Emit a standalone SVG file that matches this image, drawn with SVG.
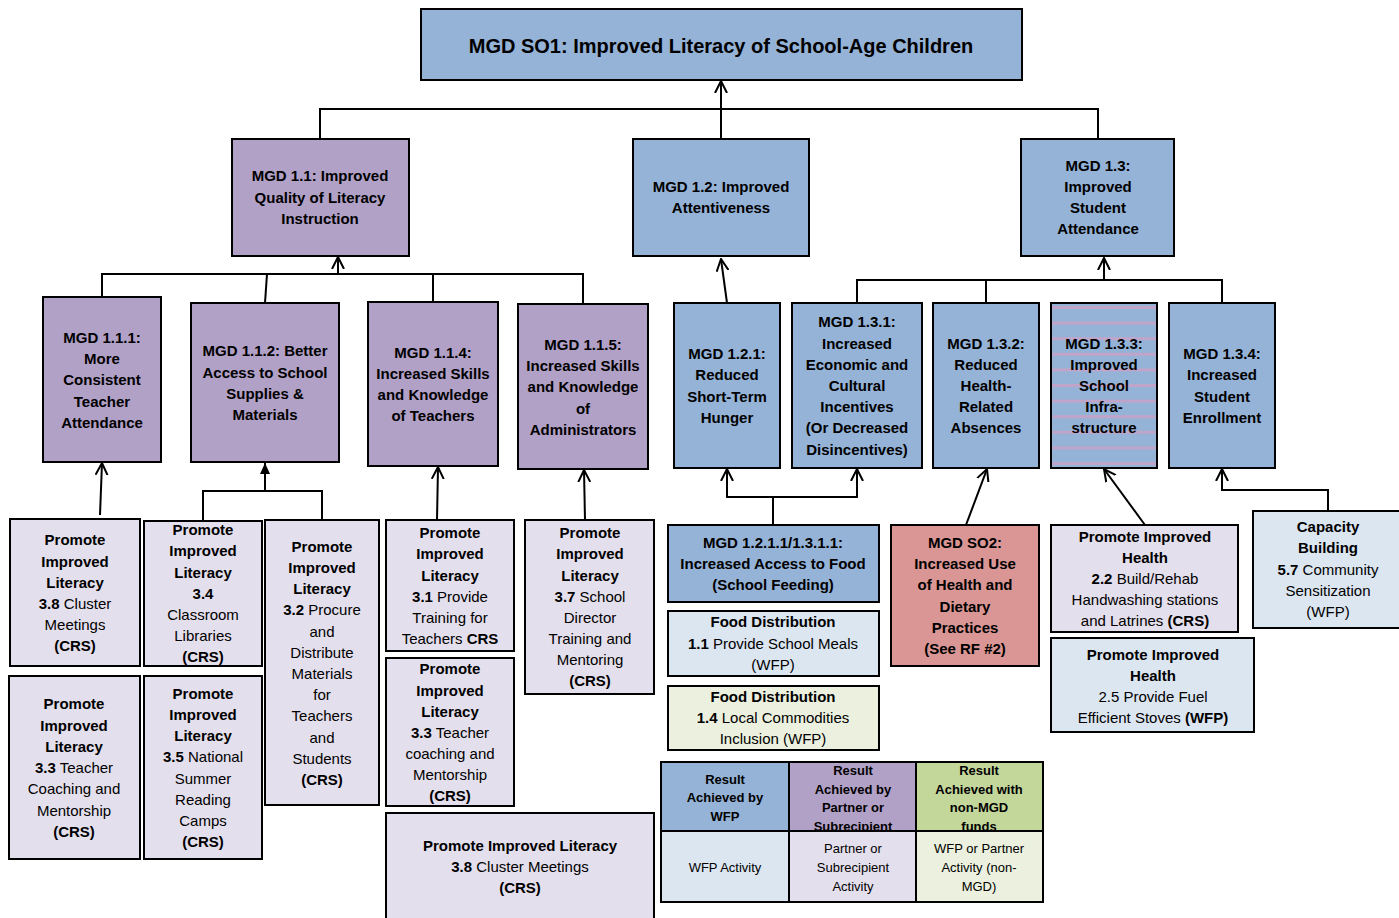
<svg xmlns="http://www.w3.org/2000/svg" width="1399" height="918" viewBox="0 0 1399 918">
<style>
.n{stroke:#000;stroke-width:2}
.b{fill:#95B3D7}.p{fill:#B2A1C7}.lp{fill:#E4DFEC}.lb{fill:#DCE6F1}.lg{fill:#EBF1DE}.g{fill:#C4D79B}.r{fill:#DA9694}
text{font-family:"Liberation Sans",Arial,sans-serif;font-size:15px;fill:#000;text-anchor:middle}
.bd{font-weight:bold}
.t{font-size:20px;font-weight:bold}
.s{font-size:13px}
.c{fill:none;stroke:#000;stroke-width:2}
.a{marker-end:url(#arr)}
.af{marker-end:url(#arrf)}
</style>
<defs>
<marker id="arr" markerUnits="userSpaceOnUse" viewBox="0 0 13 14" refX="12" refY="7" markerWidth="13" markerHeight="14" orient="auto">
<path d="M0,1 L12,7 L0,13" fill="none" stroke="#000" stroke-width="2"/>
</marker>
<marker id="arrf" markerUnits="userSpaceOnUse" viewBox="0 0 12 12" refX="11" refY="6" markerWidth="12" markerHeight="12" orient="auto">
<path d="M0,1 L11,6 L0,11 Z" fill="#000"/>
</marker>
<pattern id="stripe" patternUnits="userSpaceOnUse" x="0" y="306" width="20" height="15.6">
<rect width="20" height="15.6" fill="#95B3D7"/>
<rect width="20" height="3" fill="#BFA5C9"/>
</pattern>
</defs>

<g id="connectors">
<path class="c a" d="M721,139 V81"/>
<path class="c" d="M320,139 V109 H1098 V139"/>
<path class="c a" d="M338,274 V257"/>
<path class="c" d="M102,297 V274 H583 V304"/>
<path class="c" d="M267,274 L265,303"/>
<path class="c" d="M433,274 V302"/>
<path class="c a" d="M727,303 L721,259"/>
<path class="c a" d="M1104,280 V258"/>
<path class="c" d="M857,303 V280 H1222 V303"/>
<path class="c" d="M986,280 V303"/>
<path class="c a" d="M100,515 L102,463"/>
<path class="c" d="M203,521 V491 H322 V520"/>
<path class="c af" d="M265,491 V463"/>
<path class="c a" d="M437,520 L438,467"/>
<path class="c a" d="M585,520 L584,470"/>
<path class="c" d="M773,525 V497"/>
<path class="c a" d="M773,497 H727 V469"/>
<path class="c a" d="M773,497 H857 V469"/>
<path class="c a" d="M966,525 L987,469"/>
<path class="c a" d="M1145,525 L1104,469"/>
<path class="c a" d="M1328,511 V490 H1222 V469"/>
</g>

<g id="so1"><rect class="n b" x="421" y="9" width="601" height="71"/>
<text class="t" x="721" y="53">MGD SO1: Improved Literacy of School-Age Children</text></g>

<g id="mgd11"><rect class="n p" x="232" y="139" width="177" height="117"/>
<text class="bd"><tspan x="320" y="181">MGD 1.1: Improved</tspan><tspan x="320" y="203">Quality of Literacy</tspan><tspan x="320" y="224">Instruction</tspan></text></g>

<g id="mgd12"><rect class="n b" x="633" y="139" width="176" height="117"/>
<text class="bd"><tspan x="721" y="192">MGD 1.2: Improved</tspan><tspan x="721" y="213">Attentiveness</tspan></text></g>

<g id="mgd13"><rect class="n b" x="1021" y="139" width="153" height="117"/>
<text class="bd"><tspan x="1098" y="171">MGD 1.3:</tspan><tspan x="1098" y="192">Improved</tspan><tspan x="1098" y="213">Student</tspan><tspan x="1098" y="234">Attendance</tspan></text></g>

<g id="mgd111"><rect class="n p" x="43" y="297" width="118" height="165"/>
<text class="bd"><tspan x="102" y="343">MGD 1.1.1:</tspan><tspan x="102" y="364">More</tspan><tspan x="102" y="385">Consistent</tspan><tspan x="102" y="407">Teacher</tspan><tspan x="102" y="428">Attendance</tspan></text></g>

<g id="mgd112"><rect class="n p" x="191" y="303" width="148" height="159"/>
<text class="bd"><tspan x="265" y="356">MGD 1.1.2: Better</tspan><tspan x="265" y="378">Access to School</tspan><tspan x="265" y="399">Supplies &amp;</tspan><tspan x="265" y="420">Materials</tspan></text></g>

<g id="mgd114"><rect class="n p" x="368" y="302" width="130" height="164"/>
<text class="bd"><tspan x="433" y="358">MGD 1.1.4:</tspan><tspan x="433" y="379">Increased Skills</tspan><tspan x="433" y="400">and Knowledge</tspan><tspan x="433" y="421">of Teachers</tspan></text></g>

<g id="mgd115"><rect class="n p" x="518" y="304" width="130" height="165"/>
<text class="bd"><tspan x="583" y="350">MGD 1.1.5:</tspan><tspan x="583" y="371">Increased Skills</tspan><tspan x="583" y="392">and Knowledge</tspan><tspan x="583" y="414">of</tspan><tspan x="583" y="435">Administrators</tspan></text></g>

<g id="mgd121"><rect class="n b" x="674" y="303" width="106" height="165"/>
<text class="bd"><tspan x="727" y="359">MGD 1.2.1:</tspan><tspan x="727" y="380">Reduced</tspan><tspan x="727" y="402">Short-Term</tspan><tspan x="727" y="423">Hunger</tspan></text></g>

<g id="mgd131"><rect class="n b" x="792" y="303" width="130" height="165"/>
<text class="bd"><tspan x="857" y="327">MGD 1.3.1:</tspan><tspan x="857" y="349">Increased</tspan><tspan x="857" y="370">Economic and</tspan><tspan x="857" y="391">Cultural</tspan><tspan x="857" y="412">Incentives</tspan><tspan x="857" y="433">(Or Decreased</tspan><tspan x="857" y="455">Disincentives)</tspan></text></g>

<g id="mgd132"><rect class="n b" x="933" y="303" width="106" height="165"/>
<text class="bd"><tspan x="986" y="349">MGD 1.3.2:</tspan><tspan x="986" y="370">Reduced</tspan><tspan x="986" y="391">Health-</tspan><tspan x="986" y="412">Related</tspan><tspan x="986" y="433">Absences</tspan></text></g>

<g id="mgd133"><rect class="n" fill="url(#stripe)" x="1051" y="303" width="106" height="165"/>
<text class="bd"><tspan x="1104" y="349">MGD 1.3.3:</tspan><tspan x="1104" y="370">Improved</tspan><tspan x="1104" y="391">School</tspan><tspan x="1104" y="412">Infra-</tspan><tspan x="1104" y="433">structure</tspan></text></g>

<g id="mgd134"><rect class="n b" x="1169" y="303" width="106" height="165"/>
<text class="bd"><tspan x="1222" y="359">MGD 1.3.4:</tspan><tspan x="1222" y="380">Increased</tspan><tspan x="1222" y="402">Student</tspan><tspan x="1222" y="423">Enrollment</tspan></text></g>

<g id="act38a"><rect class="n lp" x="10" y="519" width="130" height="147"/>
<text><tspan class="bd" x="75" y="545">Promote</tspan><tspan class="bd" x="75" y="567">Improved</tspan><tspan class="bd" x="75" y="588">Literacy</tspan><tspan x="75" y="609"><tspan class="bd">3.8</tspan> Cluster</tspan><tspan x="75" y="630">Meetings</tspan><tspan class="bd" x="75" y="651">(CRS)</tspan></text></g>

<g id="act34"><rect class="n lp" x="144" y="521" width="118" height="145"/>
<text><tspan class="bd" x="203" y="535">Promote</tspan><tspan class="bd" x="203" y="556">Improved</tspan><tspan class="bd" x="203" y="578">Literacy</tspan><tspan class="bd" x="203" y="599">3.4</tspan><tspan x="203" y="620">Classroom</tspan><tspan x="203" y="641">Libraries</tspan><tspan class="bd" x="203" y="662">(CRS)</tspan></text></g>

<g id="act32"><rect class="n lp" x="265" y="520" width="114" height="285"/>
<text><tspan class="bd" x="322" y="552">Promote</tspan><tspan class="bd" x="322" y="573">Improved</tspan><tspan class="bd" x="322" y="594">Literacy</tspan><tspan x="322" y="615"><tspan class="bd">3.2</tspan> Procure</tspan><tspan x="322" y="637">and</tspan><tspan x="322" y="658">Distribute</tspan><tspan x="322" y="679">Materials</tspan><tspan x="322" y="700">for</tspan><tspan x="322" y="721">Teachers</tspan><tspan x="322" y="743">and</tspan><tspan x="322" y="764">Students</tspan><tspan class="bd" x="322" y="785">(CRS)</tspan></text></g>

<g id="act33a"><rect class="n lp" x="9" y="676" width="131" height="183"/>
<text><tspan class="bd" x="74" y="709">Promote</tspan><tspan class="bd" x="74" y="731">Improved</tspan><tspan class="bd" x="74" y="752">Literacy</tspan><tspan x="74" y="773"><tspan class="bd">3.3</tspan> Teacher</tspan><tspan x="74" y="794">Coaching and</tspan><tspan x="74" y="816">Mentorship</tspan><tspan class="bd" x="74" y="837">(CRS)</tspan></text></g>

<g id="act35"><rect class="n lp" x="144" y="676" width="118" height="183"/>
<text><tspan class="bd" x="203" y="699">Promote</tspan><tspan class="bd" x="203" y="720">Improved</tspan><tspan class="bd" x="203" y="741">Literacy</tspan><tspan x="203" y="762"><tspan class="bd">3.5</tspan> National</tspan><tspan x="203" y="784">Summer</tspan><tspan x="203" y="805">Reading</tspan><tspan x="203" y="826">Camps</tspan><tspan class="bd" x="203" y="847">(CRS)</tspan></text></g>

<g id="act31"><rect class="n lp" x="386" y="520" width="128" height="131"/>
<text><tspan class="bd" x="450" y="538">Promote</tspan><tspan class="bd" x="450" y="559">Improved</tspan><tspan class="bd" x="450" y="581">Literacy</tspan><tspan x="450" y="602"><tspan class="bd">3.1</tspan> Provide</tspan><tspan x="450" y="623">Training for</tspan><tspan x="450" y="644">Teachers <tspan class="bd">CRS</tspan></tspan></text></g>

<g id="act33b"><rect class="n lp" x="386" y="658" width="128" height="148"/>
<text><tspan class="bd" x="450" y="674">Promote</tspan><tspan class="bd" x="450" y="696">Improved</tspan><tspan class="bd" x="450" y="717">Literacy</tspan><tspan x="450" y="738"><tspan class="bd">3.3</tspan> Teacher</tspan><tspan x="450" y="759">coaching and</tspan><tspan x="450" y="780">Mentorship</tspan><tspan class="bd" x="450" y="801">(CRS)</tspan></text></g>

<g id="act37"><rect class="n lp" x="525" y="520" width="129" height="174"/>
<text><tspan class="bd" x="590" y="538">Promote</tspan><tspan class="bd" x="590" y="559">Improved</tspan><tspan class="bd" x="590" y="581">Literacy</tspan><tspan x="590" y="602"><tspan class="bd">3.7</tspan> School</tspan><tspan x="590" y="623">Director</tspan><tspan x="590" y="644">Training and</tspan><tspan x="590" y="665">Mentoring</tspan><tspan class="bd" x="590" y="686">(CRS)</tspan></text></g>

<g id="act38b"><rect class="n lp" x="386" y="813" width="268" height="112"/>
<text><tspan class="bd" x="520" y="851">Promote Improved Literacy</tspan><tspan x="520" y="872"><tspan class="bd">3.8</tspan> Cluster Meetings</tspan><tspan class="bd" x="520" y="893">(CRS)</tspan></text></g>

<g id="mgd1211"><rect class="n b" x="668" y="525" width="211" height="77"/>
<text class="bd"><tspan x="773" y="548">MGD 1.2.1.1/1.3.1.1:</tspan><tspan x="773" y="569">Increased Access to Food</tspan><tspan x="773" y="590">(School Feeding)</tspan></text></g>

<g id="food11"><rect class="n lb" x="668" y="611" width="211" height="65"/>
<text><tspan class="bd" x="773" y="627">Food Distribution</tspan><tspan x="773" y="649"><tspan class="bd">1.1</tspan> Provide School Meals</tspan><tspan x="773" y="670">(WFP)</tspan></text></g>

<g id="food14"><rect class="n lg" x="668" y="686" width="211" height="64"/>
<text><tspan class="bd" x="773" y="702">Food Distribution</tspan><tspan x="773" y="723"><tspan class="bd">1.4</tspan> Local Commodities</tspan><tspan x="773" y="744">Inclusion (WFP)</tspan></text></g>

<g id="so2"><rect class="n r" x="891" y="525" width="148" height="141"/>
<text class="bd"><tspan x="965" y="548">MGD SO2:</tspan><tspan x="965" y="569">Increased Use</tspan><tspan x="965" y="590">of Health and</tspan><tspan x="965" y="612">Dietary</tspan><tspan x="965" y="633">Practices</tspan><tspan x="965" y="654">(See RF #2)</tspan></text></g>

<g id="health22"><rect class="n lp" x="1051" y="525" width="187" height="107"/>
<text><tspan class="bd" x="1145" y="542">Promote Improved</tspan><tspan class="bd" x="1145" y="563">Health</tspan><tspan x="1145" y="584"><tspan class="bd">2.2</tspan> Build/Rehab</tspan><tspan x="1145" y="605">Handwashing stations</tspan><tspan x="1145" y="626">and Latrines <tspan class="bd">(CRS)</tspan></tspan></text></g>

<g id="health25"><rect class="n lb" x="1051" y="638" width="203" height="94"/>
<text><tspan class="bd" x="1153" y="660">Promote Improved</tspan><tspan class="bd" x="1153" y="681">Health</tspan><tspan x="1153" y="702">2.5 Provide Fuel</tspan><tspan x="1153" y="723">Efficient Stoves <tspan class="bd">(WFP)</tspan></tspan></text></g>

<g id="cap57"><rect class="n lb" x="1253" y="511" width="150" height="117"/>
<text><tspan class="bd" x="1328" y="532">Capacity</tspan><tspan class="bd" x="1328" y="553">Building</tspan><tspan x="1328" y="575"><tspan class="bd">5.7</tspan> Community</tspan><tspan x="1328" y="596">Sensitization</tspan><tspan x="1328" y="617">(WFP)</tspan></text></g>

<g id="legend">
<rect class="n b" x="661" y="762" width="128" height="69"/>
<rect class="n p" x="789" y="762" width="127" height="69"/>
<rect class="n g" x="916" y="762" width="127" height="69"/>
<text class="s bd"><tspan x="725" y="784">Result</tspan><tspan x="725" y="802">Achieved by</tspan><tspan x="725" y="821">WFP</tspan></text>
<text class="s bd"><tspan x="853" y="775">Result</tspan><tspan x="853" y="794">Achieved by</tspan><tspan x="853" y="812">Partner or</tspan><tspan x="853" y="831">Subrecipient</tspan></text>
<text class="s bd"><tspan x="979" y="775">Result</tspan><tspan x="979" y="794">Achieved with</tspan><tspan x="979" y="812">non-MGD</tspan><tspan x="979" y="831">funds</tspan></text>
<rect class="n lb" x="661" y="831" width="128" height="71"/>
<rect class="n lp" x="789" y="831" width="127" height="71"/>
<rect class="n lg" x="916" y="831" width="127" height="71"/>
<text class="s"><tspan x="725" y="872">WFP Activity</tspan></text>
<text class="s"><tspan x="853" y="853">Partner or</tspan><tspan x="853" y="872">Subrecipient</tspan><tspan x="853" y="891">Activity</tspan></text>
<text class="s"><tspan x="979" y="853">WFP or Partner</tspan><tspan x="979" y="872">Activity (non-</tspan><tspan x="979" y="891">MGD)</tspan></text>
</g>
</svg>
